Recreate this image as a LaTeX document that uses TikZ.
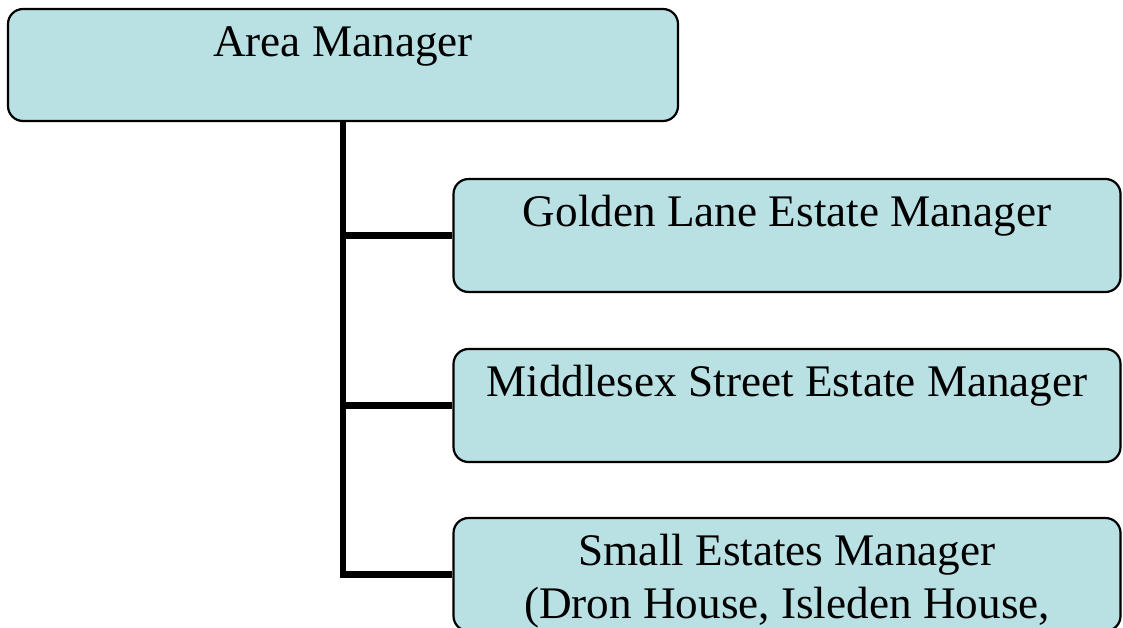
\documentclass[tikz,border=0pt]{standalone}
\usepackage{fontspec}
\setmainfont{Liberation Serif}
\usetikzlibrary{positioning}

\definecolor{boxfill}{RGB}{185,224,227}

\begin{document}
\begin{tikzpicture}[x=1pt,y=-1pt,
    post/.style={draw,line width=2.2pt,rounded corners=15pt,fill=boxfill,
      minimum width=667pt,minimum height=113pt,inner sep=0pt},
    title/.style={anchor=base,yshift=-49pt,align=center,
      font=\fontsize{45.2}{53}\selectfont},
    link/.style={line width=6.5pt}]
      \clip (0,0) rectangle (1123,627);

      \node[post,minimum width=670pt,minimum height=112pt,
        label={[title]north:Area Manager}] (area) at (343,65) {};

      \node[post,label={[title]north:Golden Lane Estate Manager}] (golden) at (787,235.5) {};
      \node[post,label={[title]north:Middlesex Street Estate Manager}] (middlesex) at (787,405.5) {};
      \node[post,label={[title,yshift=-53pt]north:Small Estates Manager\\(Dron House, Isleden House,}] (small) at (787,574.5) {};

      \coordinate (trunk) at (343,578);
      \draw[link] (area.south) -- (trunk);

      \foreach \to in {golden,middlesex,small}
      \draw[link] (area.south |- \to.west) -- (\to.west);
  \end{tikzpicture}
\end{document}
